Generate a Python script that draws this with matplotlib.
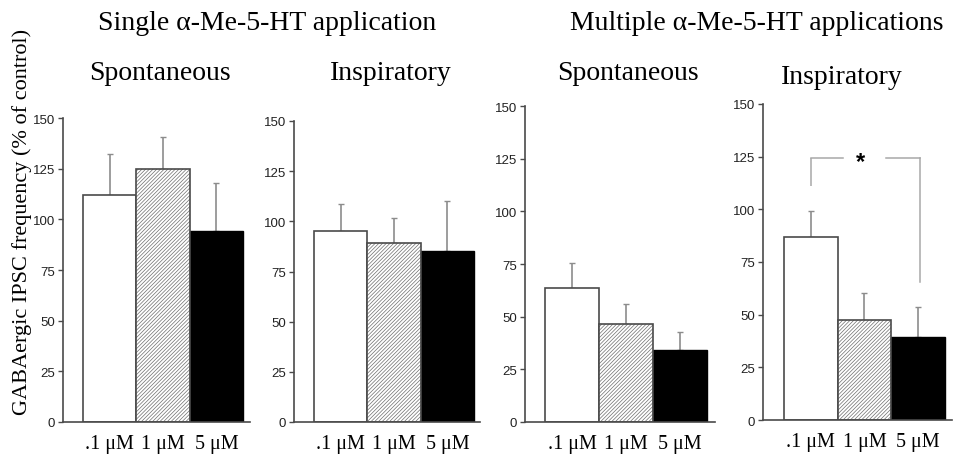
import matplotlib
matplotlib.use("Agg")
import matplotlib.pyplot as plt
import numpy as np

# ---- data ----
categories = [".1 \u03bcM", "1 \u03bcM", "5 \u03bcM"]
single_spont = [112, 125, 94]
single_spont_err = [20, 15.5, 24]
single_insp = [95, 89, 85]
single_insp_err = [13.5, 12.5, 25]
multi_spont = [63.5, 46.5, 34]
multi_spont_err = [11.8, 9.7, 8.7]
multi_insp = [87, 47.5, 39.5]
multi_insp_err = [12, 13, 14]
yticks = [0, 25, 50, 75, 100, 125, 150]

W, H = 958, 460
fig = plt.figure(figsize=(W / 100, H / 100), dpi=100)
plt.rcParams['hatch.linewidth'] = 0.5

SERIF = ["Liberation Serif", "DejaVu Serif"]
SANS = ["Liberation Sans", "DejaVu Sans"]

# pixel layout: (axis_x, axis_end_x, y_top(150), y_bottom(0), bar1_left, bar3_right)
layouts = [
    (63, 250, 119, 423, 83, 243),
    (294, 480, 122, 423, 314, 474),
    (525, 715, 107, 423, 545, 707),
    (763, 952, 105, 421, 784, 945),
]
datasets = [
    (single_spont, single_spont_err),
    (single_insp, single_insp_err),
    (multi_spont, multi_spont_err),
    (multi_insp, multi_insp_err),
]

edge = "#4a4a4a"
axes = []
for (ax0, ax1, yt, yb, b1l, b3r), (vals, errs) in zip(layouts, datasets):
    ax = fig.add_axes([ax0 / W, 1 - yb / H, (ax1 - ax0) / W, (yb - yt) / H])
    ax.patch.set_alpha(0)
    barw = (b3r - b1l) / 3.0
    xl = -0.5 - (b1l - ax0) / barw
    xr = 2.5 + (ax1 - b3r) / barw
    x = np.arange(len(categories))
    # error bars (upper only)
    ax.errorbar(x, vals, yerr=[np.zeros(len(errs)), errs], fmt="none",
                ecolor="#8c8c8c", elinewidth=1.2, capsize=2, capthick=1.0, zorder=1)
    # white bar
    ax.bar(x[0], vals[0], width=1.0, color="white", edgecolor=edge, linewidth=1.2, zorder=2)
    # hatched bar
    ax.bar(x[1], vals[1], width=1.0, color="white", edgecolor="#6e6e6e", hatch="/////////",
           linewidth=0, zorder=2)
    ax.bar(x[1], vals[1], width=1.0, fill=False, edgecolor=edge, linewidth=1.2, zorder=3)
    # black bar
    ax.bar(x[2], vals[2], width=1.0, color="black", edgecolor="black", linewidth=1.0, zorder=2)
    ax.set_xlim(xl, xr)
    ax.set_ylim(0, 150)
    ax.set_yticks(yticks)
    ax.set_yticklabels([str(t) for t in yticks], family=SANS, fontsize=9.5, color="#222222")
    ax.set_xticks(x)
    ax.set_xticklabels(categories, family=SERIF, fontsize=14.5)
    ax.tick_params(axis="x", length=0, pad=9)
    ax.tick_params(axis="y", length=3.5, width=1, pad=2, color=edge, direction="out")
    for s in ["top", "right"]:
        ax.spines[s].set_visible(False)
    for s in ["left", "bottom"]:
        ax.spines[s].set_color(edge)
        ax.spines[s].set_linewidth(1.2)
    axes.append(ax)

# significance bracket on last panel
ax = axes[3]
gray = "#a8a8a8"
ax.plot([0, 0], [111, 124.5], color=gray, lw=1.1, solid_capstyle="butt")
ax.plot([0, 0.6], [124.5, 124.5], color=gray, lw=1.1)
ax.plot([1.4, 2.03], [124.5, 124.5], color=gray, lw=1.1)
ax.plot([2.03, 2.03], [124.5, 65.5], color=gray, lw=1.1)
ax.text(0.92, 122.5, "*", ha="center", va="center", fontsize=17, fontweight="bold",
        family=SANS)

# titles
fig.text(267 / W, 1 - 23 / H, "Single \u03b1-Me-5-HT application", ha="center", va="center",
         family=SERIF, fontsize=20)
fig.text(757 / W, 1 - 23 / H, "Multiple \u03b1-Me-5-HT applications", ha="center", va="center",
         family=SERIF, fontsize=20)
fig.text(160 / W, 1 - 74 / H, "Spontaneous", ha="center", va="center", family=SERIF, fontsize=20)
fig.text(391 / W, 1 - 74 / H, "Inspiratory", ha="center", va="center", family=SERIF, fontsize=20)
fig.text(628 / W, 1 - 74 / H, "Spontaneous", ha="center", va="center", family=SERIF, fontsize=20)
fig.text(842 / W, 1 - 77 / H, "Inspiratory", ha="center", va="center", family=SERIF, fontsize=20)

fig.text(22 / W, 1 - 222 / H, "GABAergic IPSC frequency (% of control)", rotation=90,
         ha="center", va="center", family=SERIF, fontsize=16)

fig.savefig("out.png", dpi=100)
